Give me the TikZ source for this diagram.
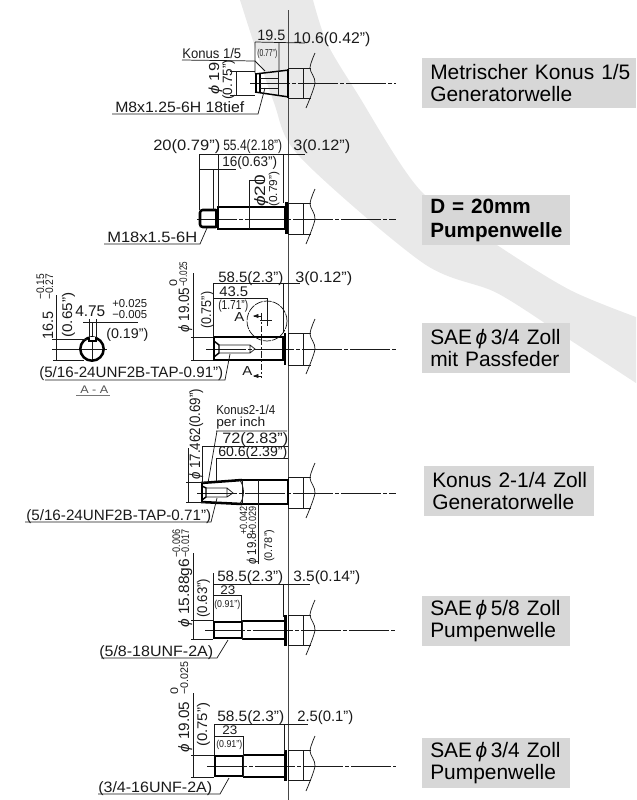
\documentclass[tikz,border=0pt]{standalone}
\usepackage{fontspec}
\usepackage{graphicx}
\setmainfont{Liberation Sans}
\usetikzlibrary{arrows.meta}
\definecolor{bandgray}{HTML}{E9E9E9}
\definecolor{boxgray}{HTML}{D7D7D7}
\definecolor{inkc}{HTML}{1A1A1A}
\newsavebox\fitbox
\newcommand\fittext[3]{\pgfmathsetmacro\fitfs{#1*0.75}\fontsize{\fitfs pt}{\fitfs pt}\selectfont\sbox\fitbox{#3}\pgfmathsetmacro\fitr{#2*0.75/\the\wd\fitbox}\scalebox{\fitr}[1]{\usebox\fitbox}}
\newcommand\TX[7][]{\node[txt,anchor=base west,#1] (#2) at (#3,#4) {\fittext{#5}{#6}{#7}};}
\newcommand\RX[7][]{\node[txt,anchor=base west,rotate=90,#1] (#2) at (#3,#4) {\fittext{#5}{#6}{#7}};}
\newcommand\ph{\textit{ϕ}}
\newcommand\LL[2]{\hspace*{6pt}\mbox{#1}\\\hspace*{6pt}\mbox{#2}}
\newcommand\HUB[3]{% top, bottom, centre
 \draw[thin1] (288,#1) rectangle (303,#2);
 \draw[thin1] (303,#1) -- (311,#1) (303,#2) -- (311,#2);
 \draw[thin1] plot[smooth] coordinates {(315,#3-30) (310,#3-15) (315,#3) (306,#3+25)};
}
\newcommand\CL[2]{\draw[cline] (#1,#2) -- (396,#2);}
\tikzset{
 x=0.75pt,y=-0.75pt,
 txt/.style={inner sep=0pt,text=inkc},
 thin1/.style={draw=inkc,line width=0.55pt},
 thick1/.style={draw=black,line width=1.9pt},
 med1/.style={draw=black,line width=1.1pt},
 cline/.style={draw=inkc,line width=0.55pt,dash pattern=on 30pt off 1.5pt on 3pt off 1.5pt},
 labelbox/.style={fill=boxgray,anchor=north west,inner sep=0pt,align=left,text=black,
   font=\fontsize{15.7pt}{16.5pt}\selectfont,minimum height=37.5pt},
}
\begin{document}
\begin{tikzpicture}
\useasboundingbox (0,0) rectangle (636,800);
% band
\fill[bandgray] plot[smooth] coordinates {(313,0) (327,43) (357,93) (420,190) (497,245) (570,290) (636,317)}
  -- plot[smooth] coordinates {(636,383) (570,340) (497,293) (423,263) (300,157) (273,100) (240,0)} -- cycle;
% main axis
\draw[draw=inkc!80,line width=0.7pt] (288,10) -- (288,800);
% label boxes
\node[labelbox,text width=160.5pt] (b1) at (422,58) {\LL{Metrischer Konus 1/5}{Generatorwelle}};
\node[labelbox,text width=111pt,font=\fontsize{15.5pt}{18pt}\selectfont\bfseries] (b2) at (422,195) {\LL{D = 20mm}{Pumpenwelle}};
\node[labelbox,text width=111pt] (b3) at (422,323) {\LL{SAE\,\ph\,3/4 Zoll}{mit Passfeder}};
\node[labelbox,text width=127.5pt] (b4) at (424,466) {\LL{Konus 2-1/4 Zoll}{Generatorwelle}};
\node[labelbox,text width=111pt] (b5) at (422,596) {\LL{SAE\,\ph\,5/8 Zoll}{Pumpenwelle}};
\node[labelbox,text width=111pt] (b6) at (422,738) {\LL{SAE\,\ph\,3/4 Zoll}{Pumpenwelle}};

%% shaft 1
\CL{250}{83}\HUB{68}{98}{83}
\draw[med1] (255,74) -- (289,70) (255,92) -- (289,97);
\draw[thick1] (256,74) -- (256,92);
\draw[line width=1.4pt] (260,74) -- (260,92);
\draw[thin1] (260,78) -- (278,78) (260,88) -- (278,88) (260,83) -- (283,83) (278,71) -- (278,95);
\draw[med1] (288,69) -- (288,98);
\draw[thin1] (255,42) -- (255,73) (279,42) -- (279,71) (255,42) -- (305,43);
\draw[thin1] (230,71) -- (255,71) (230,95) -- (255,95) (236,71) -- (236,95);
\draw[thin1] (182,60) -- (255,61) -- (265,71);
\draw[thin1] (112,114) -- (258,114) -- (265,88);
\TX{t1a}{257}{40}{15}{28}{19.5}
\TX{t1b}{257}{56}{10}{20}{(0.77")}
\TX{t1c}{293}{43}{15.5}{77}{10.6(0.42")}
\TX{t1d}{182}{58}{14}{59}{Konus 1/5}
\TX{t1e}{115}{112}{15}{129}{M8x1.25-6H 18tief}
\RX{t1f}{219}{95}{14.5}{32}{\ph\ 19}
\RX{t1g}{232}{100}{13.5}{40}{(0.75")}

%% shaft 2
\CL{197}{219}\HUB{203}{234}{219}
\draw[thick1] (286.5,202) -- (286.5,234);
\draw[thick1] (218,207) rectangle (285,229);
\draw[thick1,rounded corners=2pt] (216,210) -- (200,210) -- (200,227) -- (216,227);
\draw[med1] (216,209) -- (216,228);
\draw[thin1] (249,180) -- (249,229) (249,180) -- (265,180);
\draw[thin1] (199,154) -- (305,154) (199,154) -- (199,210) (218,154) -- (218,207) (283,154) -- (283,203);
\draw[thin1] (199,169) -- (236,169) (213,169) -- (213,210);
\draw[thin1] (104,244) -- (200,244) -- (207,228);
\TX{t2a}{153}{150}{15}{67}{20(0.79")}
\TX{t2b}{223}{150}{15}{59}{55.4(2.18")}
\TX{t2c}{293}{150}{15}{57}{3(0.12")}
\TX{t2d}{222}{166}{14}{55}{16(0.63")}
\TX{t2e}{107}{242}{15}{90}{M18x1.5-6H}
\RX{t2f}{265}{207}{15}{32}{\ph20}
\RX{t2g}{277}{207}{11.5}{35}{(0.79")}

%% shaft 3
\CL{206}{349}\HUB{333}{365}{349}
\draw[thick1] (285,333) -- (285,365);
\draw[thick1] (214,337) rectangle (283,360);
\draw[med1] (214,341) -- (219,345) -- (219,353) -- (214,357);
\draw[thin1] (219,345) -- (250,345) -- (255,349) -- (250,353) -- (219,353) (250,345) -- (250,353);
\draw[thin1,dash pattern=on 5pt off 1.5pt on 1.5pt off 1.5pt] (261,313) -- (261,378);
\draw[thin1] (254,316) -- (261,316) (254,376) -- (261,376);
\draw[thin1,fill=inkc] (258,314.5) -- (254,316) -- (258,317.5) -- cycle;
\draw[thin1,fill=inkc] (258,374.5) -- (254,376) -- (258,377.5) -- cycle;
\draw[thin1,dash pattern=on 6pt off 0.8pt] (267,321) circle[radius=20];
\draw[thin1] (260,320) -- (272,320) (267,314) -- (267,326);
\draw[thin1] (213,283) -- (300,283) (213,283) -- (213,337) (283,283) -- (283,333);
\draw[thin1] (213,298) -- (267,298) (267,298) -- (267,320);
\draw[thin1] (193,273) -- (193,360) (191,337) -- (213,337) (191,360) -- (213,360);
\draw[thin1] (45,380) -- (225,380) -- (230,354);
\TX{t3a}{218}{282}{15}{65}{58.5(2.3")}
\TX{t3b}{295}{282}{15}{57}{3(0.12")}
\TX{t3c}{219}{296}{14}{29}{43.5}
\TX{t3d}{218}{309}{13}{30}{(1.71")}
\TX{t3e}{234}{321}{13}{10}{A}
\TX{t3f}{242}{375}{13}{10}{A}
\RX{t3g}{189}{333}{15}{45}{\ph\ 19.05}
\RX{t3h}{177}{287}{11}{7}{0}
\RX{t3i}{187}{287}{11}{25}{−0.025}
\RX{t3j}{211}{329}{14}{37}{(0.75")}
% section A-A
\draw[thin1] (52,349) -- (107,349) (92,322) -- (92,362);
\draw[line width=1.9pt,draw=black] (92,349) circle[radius=11.7];
\draw[med1,fill=white] (89,337) -- (89,341) -- (96,341) -- (96,337);
\draw[thin1] (56,295) -- (56,360) (52,339) -- (88,339) (53,360) -- (84,360);
\draw[thin1] (83,322) -- (138,322) (89,319) -- (89,338) (96,319) -- (96,338);
\RX{t4a}{53}{340}{15}{28}{16.5}
\RX{t4b}{44}{300}{11}{26}{−0.15}
\RX{t4c}{53}{300}{11}{26}{−0.27}
\RX{t4d}{72}{338}{14}{45}{(0.65")}
\TX{t4e}{75}{316}{15.5}{30}{4.75}
\TX{t4f}{112}{307}{11.5}{35}{+0.025}
\TX{t4g}{112}{318}{11.5}{35}{−0.005}
\TX{t4h}{106}{338}{14}{42}{(0.19")}
\TX{t4i}{39}{377}{15}{184}{(5/16-24UNF2B-TAP-0.91")}
\TX[text=inkc!75]{t4j}{80}{393}{11}{28}{A - A}
\draw[draw=inkc!60,line width=0.7pt] (76,395) -- (110,395);

%% shaft 4
\CL{197}{493}\HUB{477}{508}{493}
\draw[thick1] (242,480) -- (288,480) -- (288,504) -- (242,504);
\draw[thick1] (201,483) -- (242,480) (201,502) -- (242,504);
\draw[thick1] (202,482) -- (202,502);
\draw[med1] (202,486) -- (206,488) -- (206,497) -- (202,500);
\draw[thin1] (206,488) -- (227,488) -- (233,493) -- (227,497) -- (206,497) (227,488) -- (227,497);
\draw[thin1] (242,480) -- (242,504) (258,480) -- (258,564);
\draw[thin1] (240,480) to[out=-60,in=60] (240,504);
\draw[thin1] (216,431) -- (287,431) (217,431) -- (208,483);
\draw[thin1] (202,446) -- (288,446) (202,446) -- (202,482);
\draw[thin1] (216,458) -- (288,458) (216,458) -- (216,481);
\draw[thin1] (188,448) -- (188,502) (186,482) -- (205,482) (186,502) -- (205,502);
\draw[thin1] (25,522) -- (211,522) -- (217,498);
\TX{t5a}{216}{414}{13}{59}{Konus2-1/4}
\TX{t5b}{216}{426}{13}{49}{per inch}
\TX{t5c}{222}{443}{15}{66}{72(2.83")}
\TX{t5d}{218}{456}{14}{69}{60.6(2.39")}
\RX{t5e}{200}{480}{15}{91}{\ph\ 17.462(0.69")}
\TX{t5f}{26}{520}{15}{185}{(5/16-24UNF2B-TAP-0.71")}
\RX{t5g}{256}{565}{13}{32}{\ph\ 19.8}
\RX{t5h}{247}{535}{10.5}{28}{+0.042}
\RX{t5i}{256}{535}{10.5}{28}{+0.029}
\RX{t5j}{272}{562}{11}{32}{(0.78")}

%% shaft 5
\CL{205}{630}\HUB{615}{645}{630}
\draw[thick1] (285.5,615) -- (285.5,646);
\draw[thick1] (214,622) rectangle (242,638);
\draw[thick1] (242,621) -- (284,621) (242,639) -- (284,639);
\draw[thin1] (242,620) -- (242,640);
\draw[thin1] (213,584) -- (310,584) (213,573) -- (213,621) (283,584) -- (283,617);
\draw[thin1] (213,595) -- (241,595) (241,595) -- (241,621);
\draw[thin1] (193,553) -- (193,639) (191,620) -- (213,620) (191,639) -- (213,639);
\draw[thin1] (101,658) -- (217,658) -- (228,640);
\TX{t6a}{217}{581}{15}{66}{58.5(2.3")}
\TX{t6b}{293}{581}{15}{67}{3.5(0.14")}
\TX{t6c}{220}{594}{12.5}{15}{23}
\TX{t6d}{214}{607}{10}{26}{(0.91")}
\RX{t6e}{189}{628}{15}{69}{\ph\ 15.88g6}
\RX{t6f}{180}{558}{11}{28}{−0.006}
\RX{t6g}{189}{558}{11}{28}{−0.017}
\RX{t6h}{207}{618}{14}{39}{(0.63")}
\TX{t6i}{99}{656}{15}{114}{(5/8-18UNF-2A)}

%% shaft 6
\CL{207}{766}\HUB{750}{780}{766}
\draw[thick1] (285.5,750) -- (285.5,781);
\draw[thick1] (215,756) rectangle (243,776);
\draw[thick1] (243,755) -- (284,755) (243,777) -- (284,777);
\draw[thin1] (243,755) -- (243,777);
\draw[thin1] (214,724) -- (308,724) (214,724) -- (214,755) (284,724) -- (284,752);
\draw[thin1] (214,736) -- (243,736) (243,736) -- (243,755);
\draw[thin1] (193,693) -- (193,777) (191,755) -- (214,755) (191,777) -- (214,777);
\draw[thin1] (98,794) -- (220,794) -- (229,778);
\TX{t7a}{217}{721}{15}{67}{58.5(2.3")}
\TX{t7b}{297}{721}{15}{56}{2.5(0.1")}
\TX{t7c}{222}{734.5}{12.5}{15}{23}
\TX{t7d}{216}{747}{10}{26}{(0.91")}
\RX{t7e}{189}{753}{15}{51}{\ph\ 19.05}
\RX{t7f}{178}{695}{11}{7}{0}
\RX{t7g}{188}{695}{11}{33}{−0.025}
\RX{t7h}{207}{747}{14}{44}{(0.75")}
\TX{t7i}{98}{792}{15}{114}{(3/4-16UNF-2A)}
\end{tikzpicture}
\end{document}
